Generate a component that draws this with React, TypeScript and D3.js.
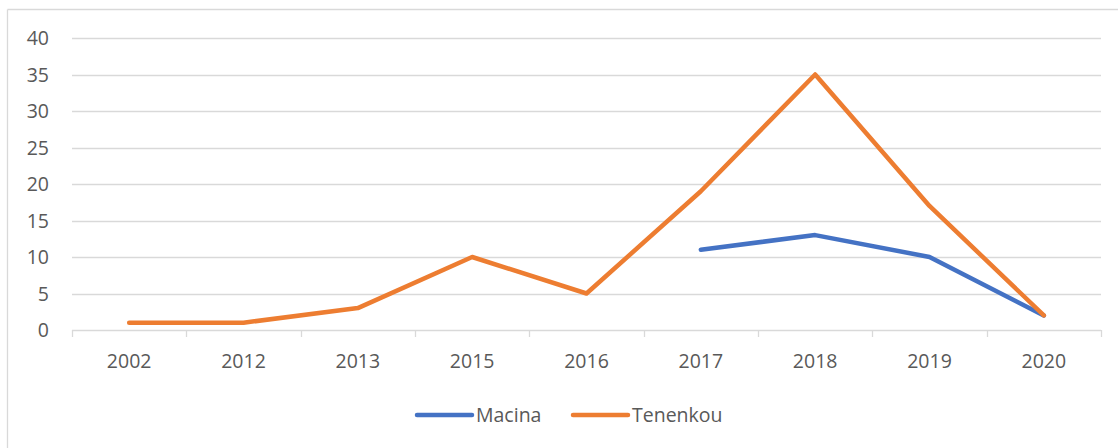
import React, { useEffect, useRef } from 'react';
import * as d3 from 'd3';

const years = ['2002', '2012', '2013', '2015', '2016', '2017', '2018', '2019', '2020'];
const macina: (number | null)[] = [null, null, null, null, null, 11, 13, 10, 2];
const tenenkou: (number | null)[] = [1, 1, 3, 10, 5, 19, 35, 17, 2];
const yTicks = [0, 5, 10, 15, 20, 25, 30, 35, 40];

const series = [
  { name: 'Macina', values: macina, color: '#4472C4' },
  { name: 'Tenenkou', values: tenenkou, color: '#ED7D31' },
];

const FONT = '"Open Sans", "Liberation Sans", sans-serif';
const TEXT = '#595959';
const GRID = '#d9d9d9';
const FS = 19.5;

const App = () => {
  const svgRef = useRef<SVGSVGElement>(null);

  useEffect(() => {
    const svg = d3.select(svgRef.current);
    svg.selectAll('*').remove();

    const width = 1118;
    const height = 448;
    const margin = { top: 38, right: 17, bottom: 118, left: 72 };

    // chart frame (only top/left visible in the crop)
    svg.append('line')
      .attr('x1', 7.5).attr('x2', width).attr('y1', 9.5).attr('y2', 9.5)
      .attr('stroke', GRID).attr('stroke-width', 1.3);
    svg.append('line')
      .attr('x1', 7.5).attr('x2', 7.5).attr('y1', 9.5).attr('y2', height)
      .attr('stroke', GRID).attr('stroke-width', 1.3);

    const x = d3.scaleBand().domain(years).range([margin.left, width - margin.right]);
    const y = d3.scaleLinear().domain([0, 40]).range([height - margin.bottom, margin.top]);

    const g = svg.append('g');

    // gridlines
    g.selectAll('.grid')
      .data(yTicks)
      .enter()
      .append('line')
      .attr('x1', margin.left)
      .attr('x2', width - margin.right)
      .attr('y1', (d) => Math.round(y(d)) + 0.5)
      .attr('y2', (d) => Math.round(y(d)) + 0.5)
      .attr('stroke', GRID)
      .attr('stroke-width', 1.3);

    // category tick marks
    const edges = years.map((d) => x(d) as number).concat([width - margin.right]);
    g.selectAll('.tick-mark')
      .data(edges)
      .enter()
      .append('line')
      .attr('x1', (d) => Math.round(d) + 0.5)
      .attr('x2', (d) => Math.round(d) + 0.5)
      .attr('y1', y(0))
      .attr('y2', y(0) + 7)
      .attr('stroke', GRID)
      .attr('stroke-width', 1.3);

    // y labels
    g.selectAll('.ylab')
      .data(yTicks)
      .enter()
      .append('text')
      .attr('x', 49)
      .attr('y', (d) => y(d))
      .attr('dy', '0.36em')
      .attr('text-anchor', 'end')
      .attr('font-family', FONT)
      .attr('font-size', FS)
      .attr('fill', TEXT)
      .text((d) => d);

    // x labels
    g.selectAll('.xlab')
      .data(years)
      .enter()
      .append('text')
      .attr('x', (d) => (x(d) as number) + x.bandwidth() / 2)
      .attr('y', y(0) + 31)
      .attr('dy', '0.36em')
      .attr('text-anchor', 'middle')
      .attr('font-family', FONT)
      .attr('font-size', FS)
      .attr('fill', TEXT)
      .text((d) => d);

    const line = d3.line<number | null>()
      .defined((d) => d !== null)
      .x((d, i) => (x(years[i]) as number) + x.bandwidth() / 2)
      .y((d) => y(d as number));

    series.forEach((s) => {
      g.append('path')
        .datum(s.values)
        .attr('d', line)
        .attr('fill', 'none')
        .attr('stroke', s.color)
        .attr('stroke-width', 4.5)
        .attr('stroke-linecap', 'round')
        .attr('stroke-linejoin', 'round');
    });

    // legend
    const legendX = [417, 573];
    const legendY = 415;
    series.forEach((s, i) => {
      const lg = g.append('g').attr('transform', `translate(${legendX[i]},${legendY})`);
      lg.append('line')
        .attr('x1', 0).attr('x2', 55).attr('y1', 0).attr('y2', 0)
        .attr('stroke', s.color)
        .attr('stroke-width', 4.5)
        .attr('stroke-linecap', 'round');
      lg.append('text')
        .attr('x', 59)
        .attr('y', 0)
        .attr('dy', '0.36em')
        .attr('font-family', FONT)
        .attr('font-size', FS)
        .attr('fill', TEXT)
        .text(s.name);
    });
  }, []);

  return (
    <svg
      ref={svgRef}
      width={1118}
      height={448}
      style={{ position: 'absolute', left: 0, top: 0, background: '#fff' }}
    />
  );
};

export default App;
